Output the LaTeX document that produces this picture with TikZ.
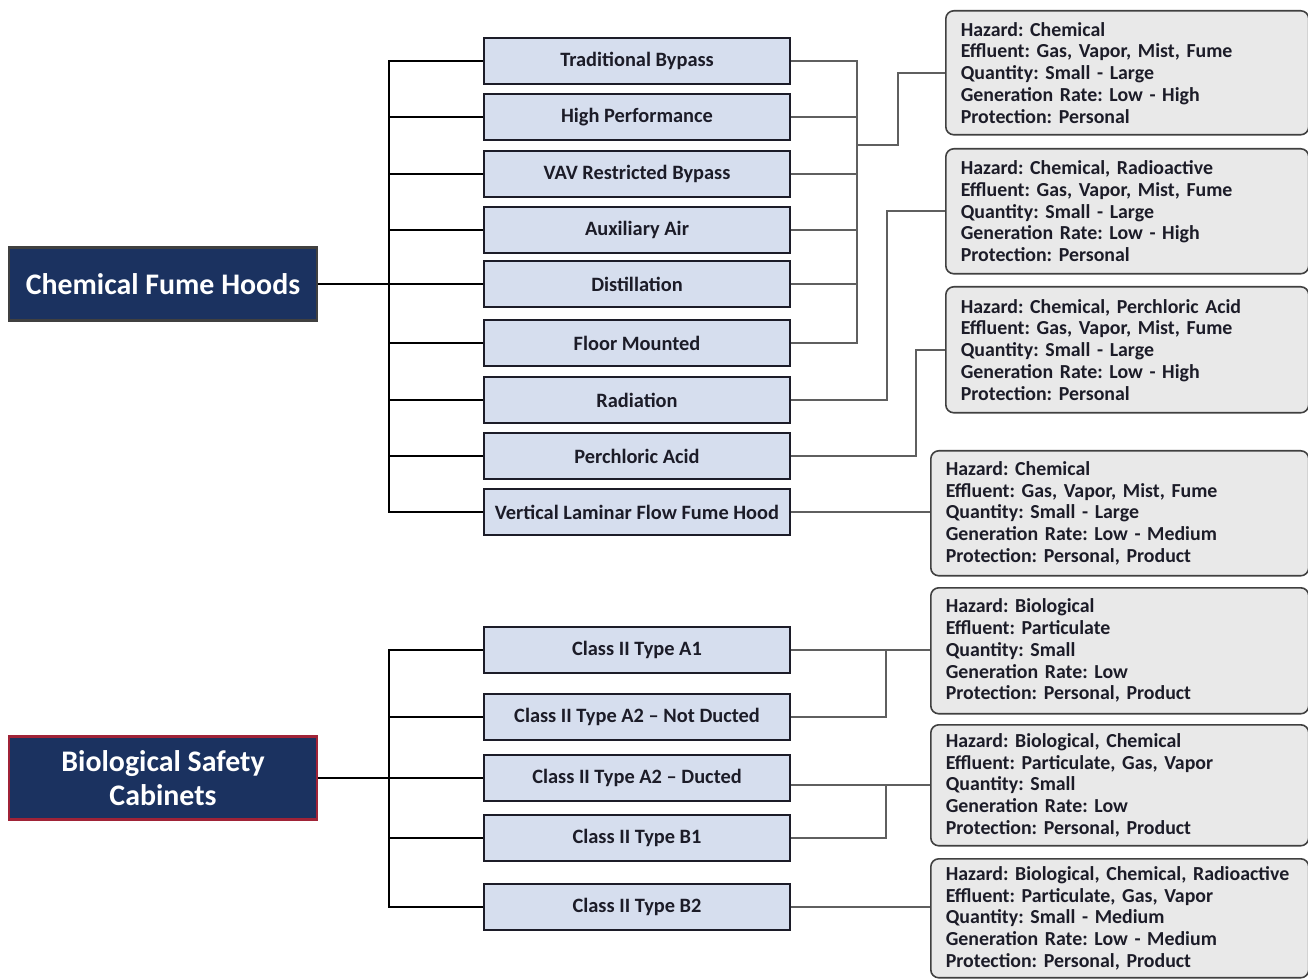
\documentclass[tikz,border=0pt]{standalone}
\usepackage{fontspec}
\setmainfont{Carlito}
\usetikzlibrary{positioning}
\frenchspacing

\definecolor{hoodnavy}{RGB}{27,50,96}
\definecolor{bscred}{RGB}{160,35,55}
\definecolor{typefill}{RGB}{214,222,238}
\definecolor{infofill}{RGB}{233,233,233}
\definecolor{inkdark}{RGB}{28,28,40}
\definecolor{linkgray}{RGB}{95,95,95}

\begin{document}
\begin{tikzpicture}[x=0.02cm, y=-0.02cm,
    group/.style={draw=darkgray, line width=1.2pt, fill=hoodnavy, text=white,
      font=\fontsize{17}{19.5}\selectfont\bfseries, align=center,
      minimum width=6.16cm, inner sep=0pt},
    kind/.style={draw=inkdark, line width=1pt, fill=typefill, text=inkdark,
      font=\fontsize{11.6}{13}\selectfont\bfseries,
      minimum width=6.12cm, minimum height=0.92cm, inner sep=0pt},
    info/.style={draw=darkgray, line width=0.9pt, fill=infofill, rounded corners=0.16cm,
      text=inkdark, font=\fontsize{11.3}{12.4}\selectfont\bfseries, align=left,
      anchor=north west, inner xsep=0.3cm, inner ysep=0pt},
    trunk/.style={line width=1.4pt, black},
    link/.style={line width=0.9pt, linkgray}]
  \useasboundingbox (0,0) rectangle (1308,979);

  % Groups (left)
  \node[group, minimum height=1.46cm] (cfh) at (163,284) {Chemical Fume Hoods};
  \node[group, draw=bscred, minimum height=1.66cm] (bsc) at (163,778)
    {Biological Safety\\Cabinets};

  % Hood types (middle)
  \node[kind] (tb)  at (637,61)  {Traditional Bypass};
  \node[kind] (hp)  at (637,117) {High Performance};
  \node[kind] (vav) at (637,174) {VAV Restricted Bypass};
  \node[kind] (aux) at (637,230) {Auxiliary Air};
  \node[kind] (dst) at (637,284) {Distillation};
  \node[kind] (flm) at (637,343) {Floor Mounted};
  \node[kind] (rad) at (637,400) {Radiation};
  \node[kind] (pca) at (637,456) {Perchloric Acid};
  \node[kind] (vlf) at (637,512) {Vertical Laminar Flow Fume Hood};

  % Cabinet types (middle)
  \node[kind] (ta1) at (637,650) {Class II Type A1};
  \node[kind] (tan) at (637,717) {Class II Type A2 -- Not Ducted};
  \node[kind] (tad) at (637,778) {Class II Type A2 -- Ducted};
  \node[kind] (tb1) at (637,838) {Class II Type B1};
  \node[kind] (tb2) at (637,907) {Class II Type B2};

  % Descriptions (right)
  \node[info, text width=6.66cm, minimum width=7.26cm, minimum height=2.48cm] (inf1) at (945,10)
    {Hazard: Chemical\\Effluent: Gas, Vapor, Mist, Fume\\Quantity: Small - Large\\Generation Rate: Low - High\\Protection: Personal};
  \node[info, text width=6.66cm, minimum width=7.26cm, minimum height=2.5cm] (inf2) at (945,148)
    {Hazard: Chemical, Radioactive\\Effluent: Gas, Vapor, Mist, Fume\\Quantity: Small - Large\\Generation Rate: Low - High\\Protection: Personal};
  \node[info, text width=6.66cm, minimum width=7.26cm, minimum height=2.52cm] (inf3) at (945,286)
    {Hazard: Chemical, Perchloric Acid\\Effluent: Gas, Vapor, Mist, Fume\\Quantity: Small - Large\\Generation Rate: Low - High\\Protection: Personal};
  \node[info, text width=6.96cm, minimum width=7.56cm, minimum height=2.5cm] (inf4) at (930,450)
    {Hazard: Chemical\\Effluent: Gas, Vapor, Mist, Fume\\Quantity: Small - Large\\Generation Rate: Low - Medium\\Protection: Personal, Product};
  \node[info, text width=6.96cm, minimum width=7.56cm, minimum height=2.52cm] (inf5) at (930,587)
    {Hazard: Biological\\Effluent: Particulate\\Quantity: Small\\Generation Rate: Low\\Protection: Personal, Product};
  \node[info, text width=6.96cm, minimum width=7.56cm, minimum height=2.42cm] (inf6) at (930,724)
    {Hazard: Biological, Chemical\\Effluent: Particulate, Gas, Vapor\\Quantity: Small\\Generation Rate: Low\\Protection: Personal, Product};
  \node[info, text width=6.96cm, minimum width=7.56cm, minimum height=2.38cm] (inf7) at (930,858)
    {Hazard: Biological, Chemical, Radioactive\\Effluent: Particulate, Gas, Vapor\\Quantity: Small - Medium\\Generation Rate: Low - Medium\\Protection: Personal, Product};

  % Trunks (left)
  \coordinate (hoodbus) at (389,284);
  \coordinate (cabbus) at (389,778);
  \draw[trunk] (cfh.east) -- (hoodbus);
  \foreach \k in {tb,hp,vav,aux,dst,flm,rad,pca,vlf}
    \draw[trunk] (\k.west) -| (hoodbus);
  \draw[trunk] (bsc.east) -- (cabbus);
  \foreach \k in {ta1,tan,tad,tb1,tb2}
    \draw[trunk] (\k.west) -| (cabbus);

  % Links (right)
  \coordinate (hoodjoin) at (857,145);
  \foreach \k in {tb,hp,vav,aux,dst,flm}
    \draw[link] (\k.east) -| (hoodjoin);
  \draw[link] (hoodjoin) -- ++(41,0) |- (inf1.west);
  \draw[link] (rad.east) -- ++(96,0) |- (inf2.west);
  \draw[link] (pca.east) -- ++(125,0) |- (inf3.west);
  \draw[link] (vlf.east) -- (vlf.east -| inf4.west);
  \coordinate (a1join) at (886,650);
  \draw[link] (ta1.east) -- (ta1.east -| inf5.west);
  \draw[link] (tan.east) -| (a1join);
  \coordinate (adjoin) at (886,784);
  \draw[link] (inf6.west -| tad.east) -- (inf6.west);
  \draw[link] (tb1.east) -| (adjoin);
  \draw[link] (tb2.east) -- (tb2.east -| inf7.west);
\end{tikzpicture}
\end{document}
